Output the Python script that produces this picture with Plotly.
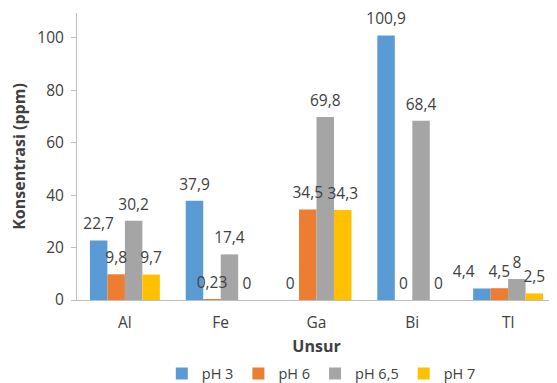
import plotly.graph_objects as go

categories = ["Al", "Fe", "Ga", "Bi", "Tl"]
series_names = ["pH 3", "pH 6", "pH 6,5", "pH 7"]
ph3 = [22.7, 37.9, 0, 100.9, 4.4]
ph6 = [9.8, 0.23, 34.5, 0, 4.5]
ph65 = [30.2, 17.4, 69.8, 68.4, 8]
ph7 = [9.7, 0, 34.3, 0, 2.5]
y_ticks = [0, 20, 40, 60, 80, 100]

colors = ["#5B9BD5", "#ED7D31", "#A5A5A5", "#FFC000"]
font_family = "Open Sans, Noto Sans, sans-serif"
text_color = "#404040"
fs = 15.5

# The page body keeps its default 8px margin, so the figure is drawn 8px
# in from the top-left corner of the 557x383 window.
W, H = 549, 375


def fmt(v):
    return f"{v:g}".replace(".", ",")


fig = go.Figure()
all_vals = [ph3, ph6, ph65, ph7]
for name, vals, col in zip(series_names, all_vals, colors):
    fig.add_trace(go.Bar(
        name=name, x=categories, y=vals, marker_color=col,
        marker_line_width=0, hoverinfo="x+y",
    ))
# data labels, grouped like the bars so each sits above its own bar;
# the first label of the crowded Tl group is nudged left as in the original
for i, (name, vals) in enumerate(zip(series_names, all_vals)):
    positions = ["top left" if (i == 0 and c == "Tl") else "top center" for c in categories]
    fig.add_trace(go.Scatter(
        x=categories, y=vals, mode="markers+text", showlegend=False,
        marker=dict(size=10, opacity=0), hoverinfo="skip",
        text=[fmt(v) for v in vals], textposition=positions,
        textfont=dict(size=fs, color=text_color, family=font_family),
        cliponaxis=False,
    ))

fig.update_layout(
    width=W, height=H,
    margin=dict(l=69, r=1, t=5, b=83, autoexpand=False),
    paper_bgcolor="white", plot_bgcolor="white",
    barmode="group", bargap=0.27, bargroupgap=0,
    scattermode="group", scattergap=0.27,
    font=dict(family=font_family, size=fs, color=text_color),
    showlegend=True,
    legend=dict(orientation="h", x=0.51, xanchor="center",
                yref="container", y=0.025, yanchor="middle",
                itemwidth=30,
                font=dict(size=14.5, color=text_color), traceorder="normal"),
    xaxis=dict(
        automargin=False,
        showline=True, linecolor="#BFBFBF", linewidth=1, ticks="",
        tickfont=dict(size=fs, color=text_color), ticklabelstandoff=8,
        title=dict(text="<b>Unsur</b>", font=dict(size=16, color=text_color), standoff=9),
    ),
    yaxis=dict(
        automargin=False,
        range=[0, 109.5], tickvals=y_ticks, showgrid=False, zeroline=False,
        showline=True, linecolor="#BFBFBF", linewidth=1,
        ticks="outside", ticklen=5, tickcolor="#BFBFBF",
        tickfont=dict(size=fs, color=text_color), ticklabelstandoff=4,
        title=dict(text="<b>Konsentrasi (ppm)</b>", font=dict(size=16, color=text_color), standoff=8),
    ),
)

fig.write_html("out.html")
